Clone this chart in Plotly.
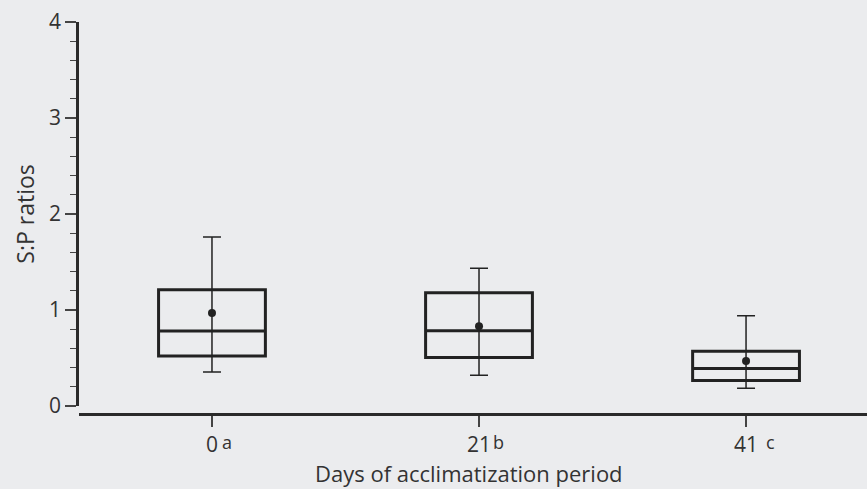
import plotly.graph_objects as go

categories = ["0", "21", "41"]
letters = ["a", "b", "c"]
upper_whisker = [1.76, 1.435, 0.94]
q3 = [1.21, 1.18, 0.57]
median = [0.78, 0.785, 0.39]
q1 = [0.52, 0.505, 0.265]
lower_whisker = [0.355, 0.32, 0.185]
means = [0.97, 0.83, 0.47]
y_ticks = [0, 1, 2, 3, 4]

pos = list(range(len(categories)))
ink = "#222222"
txt = "#333333"
bg = "#ebecee"
font = "Open Sans"

fig = go.Figure()
for i in pos:
    fig.add_trace(go.Box(
        x=[pos[i]], q1=[q1[i]], median=[median[i]], q3=[q3[i]],
        lowerfence=[q1[i]], upperfence=[q3[i]],
        width=0.4, line=dict(color=ink, width=3),
        fillcolor="rgba(0,0,0,0)", boxpoints=False, whiskerwidth=0,
        showlegend=False, hoverinfo="skip",
    ))

fig.add_trace(go.Scatter(
    x=pos, y=means, mode="markers",
    marker=dict(color=ink, size=8),
    error_y=dict(type="data", symmetric=False,
                 array=[u - m for u, m in zip(upper_whisker, means)],
                 arrayminus=[m - l for m, l in zip(means, lower_whisker)],
                 color=ink, thickness=1.5, width=9),
    showlegend=False, hoverinfo="skip",
))

shifts = [8, 12, 18]
for i in pos:
    fig.add_annotation(x=pos[i], y=0, xref="x", yref="paper", yanchor="middle",
                       xanchor="left", xshift=shifts[i], yshift=-28,
                       text=letters[i], showarrow=False,
                       font=dict(family=font, size=18, color=txt))

fig.add_annotation(x=0.495, y=0, xref="paper", yref="paper",
                   xanchor="center", yanchor="middle", yshift=-59,
                   text="Days of acclimatization period", showarrow=False,
                   font=dict(size=22, family=font, color=txt))

fig.update_layout(
    width=867, height=489,
    margin=dict(l=79, r=0, t=22, b=75),
    paper_bgcolor=bg, plot_bgcolor=bg,
    font=dict(family=font, color=txt),
    xaxis=dict(
        range=[-0.498, 2.453], tickvals=pos, ticktext=categories,
        showline=True, linecolor="#2a2a2a", linewidth=2.6,
        ticks="outside", ticklen=11, tickwidth=1.5, tickcolor="#444444",
        tickfont=dict(size=21, family=font, color=txt),
        showgrid=False, zeroline=False, anchor="free", position=0,
    ),
    yaxis=dict(
        range=[0, 4], domain=[0.0204, 1], tickvals=y_ticks,
        showline=True, linecolor="#2a2a2a", linewidth=2.6,
        ticks="outside", ticklen=11, tickwidth=1.5, tickcolor="#444444",
        minor=dict(dtick=0.2, ticks="outside", ticklen=6, tickwidth=1.2,
                   tickcolor="#444444", showgrid=False),
        tickfont=dict(size=21, family=font, color=txt),
        showgrid=False, zeroline=False,
        title=dict(text="S:P ratios", standoff=8,
                   font=dict(size=23, family=font, color=txt)),
    ),
)

fig.write_html(
    "out.html",
    config={"displayModeBar": False},
    post_script=("document.body.style.margin='0';"
                 "document.body.style.overflow='hidden';"
                 "document.body.style.background='" + bg + "';"),
)
